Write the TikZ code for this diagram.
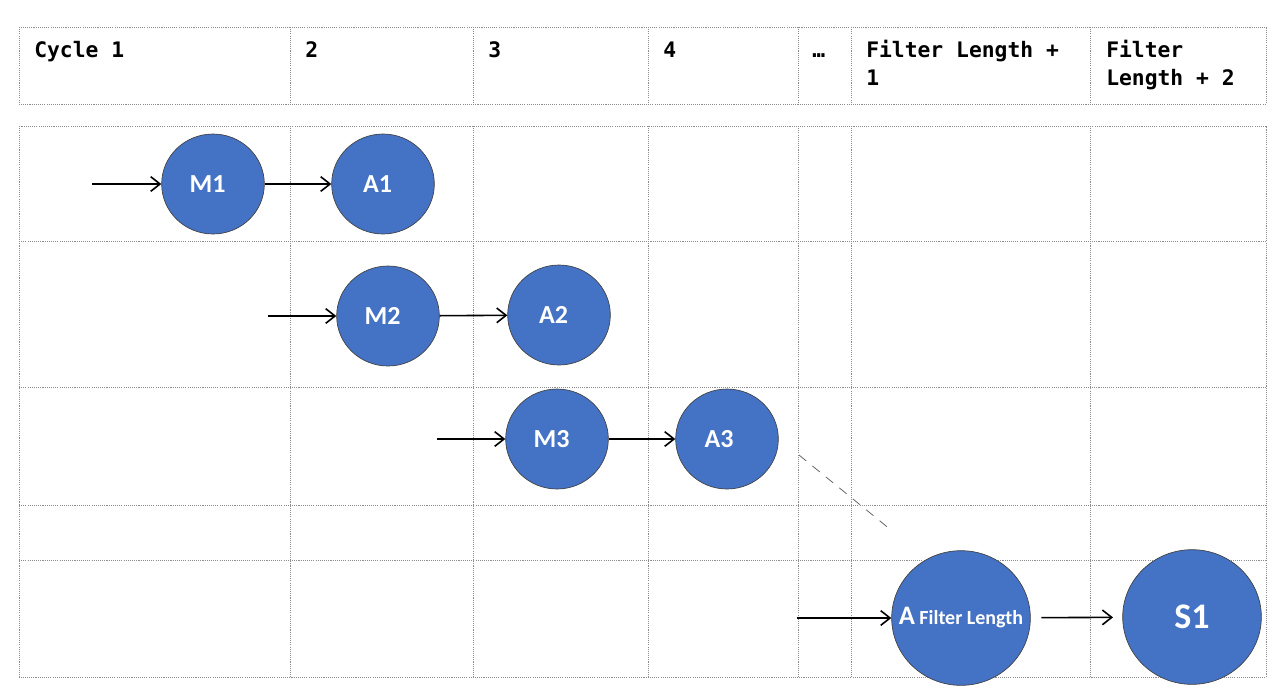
\documentclass[tikz,border=0pt]{standalone}
\usepackage{fontspec}
\setmonofont{DejaVu Sans Mono}
\newfontfamily\calfont{Carlito}
\usetikzlibrary{arrows.meta,shapes.geometric}
\definecolor{nodeblue}{HTML}{4472C4}
\definecolor{gridgray}{HTML}{8C8C8C}
\tikzset{
  gridline/.style={draw=gridgray,line width=0.6pt,dash pattern=on 0.8pt off 0.8pt},
  hdr/.style={font=\ttfamily\bfseries\fontsize{16}{21}\selectfont,anchor=base west,inner sep=0pt,align=left},
  bubble/.style={ellipse,fill=nodeblue,draw=black!75,line width=0.5pt,minimum width=77pt,minimum height=75pt,inner sep=0pt,
     text=white,font=\calfont\bfseries\fontsize{19.5}{21}\selectfont},
  bigbubble/.style={bubble,minimum width=104pt,minimum height=101pt},
  flow/.style={line width=1.2pt,-{Straight Barb[length=7pt,width=11pt,line width=1.2pt]}},
  dashline/.style={draw=black!60,line width=0.6pt,dash pattern=on 7pt off 6pt}
}
\begin{document}
\begin{tikzpicture}[x=0.75pt,y=-0.75pt]
\useasboundingbox (0,0) rectangle (1287,697);
% header table
\draw[gridline] (19,27) rectangle (1266,104);
\foreach \xx in {290,473,648,798,851,1090}{\draw[gridline] (\xx,27) -- (\xx,104);}
% lower table
\draw[gridline] (19,126) rectangle (1266,677);
\foreach \yy in {241,387,505,560}{\draw[gridline] (19,\yy) -- (1266,\yy);}
\foreach \xx in {290,473,648,798,851,1090}{\draw[gridline] (\xx,126) -- (\xx,677);}
% header texts
\node[hdr] (h1) at (34,57) {Cycle 1};
\node[hdr] (h2) at (305,57) {2};
\node[hdr] (h3) at (488,57) {3};
\node[hdr] (h4) at (663,57) {4};
\node[hdr] (h5) at (812,57) {…};
\node[hdr] (h6) at (866,85) {Filter Length +\\1};
\node[hdr] (h7) at (1106,85) {Filter\\Length + 2};
% bubbles
\node[bubble] (M1) at (213,184) {\hspace*{-8pt}M1};
\node[bubble] (A1) at (383,184) {\hspace*{-8pt}A1};
\node[bubble] (M2) at (388,316) {\hspace*{-8pt}M2};
\node[bubble] (A2) at (559,315) {\hspace*{-8pt}A2};
\node[bubble] (M3) at (557,439) {\hspace*{-8pt}M3};
\node[bubble] (A3) at (727,439) {\hspace*{-12pt}A3};
\node[bigbubble,label={[text=white,inner sep=0pt,font=\calfont\bfseries\fontsize{20}{21}\selectfont]center:{A\,{\fontsize{15}{16}\selectfont Filter Length}}}] (AF) at (961,618) {};
\node[bigbubble,font=\calfont\bfseries\fontsize{27}{30}\selectfont] (S1) at (1192,617) {S1};
% free ends
\coordinate (i1) at (92,184);
\coordinate (i2) at (268,316);
\coordinate (i3) at (437,439);
\coordinate (i4) at (797,618);
\coordinate (d1) at (799,455);
\coordinate (d2) at (891,530);
% connectors
\draw[flow] (i1) -- (M1);
\draw[flow] (M1) -- (A1);
\draw[flow] (i2) -- (M2);
\draw[flow] (M2) -- (A2);
\draw[flow] (i3) -- (M3);
\draw[flow] (M3) -- (A3);
\draw[flow] (i4) -- (AF);
\draw[flow,shorten <=8pt,shorten >=7pt] (AF) -- (S1);
\draw[dashline] (d1) -- (d2);
\end{tikzpicture}
\end{document}
